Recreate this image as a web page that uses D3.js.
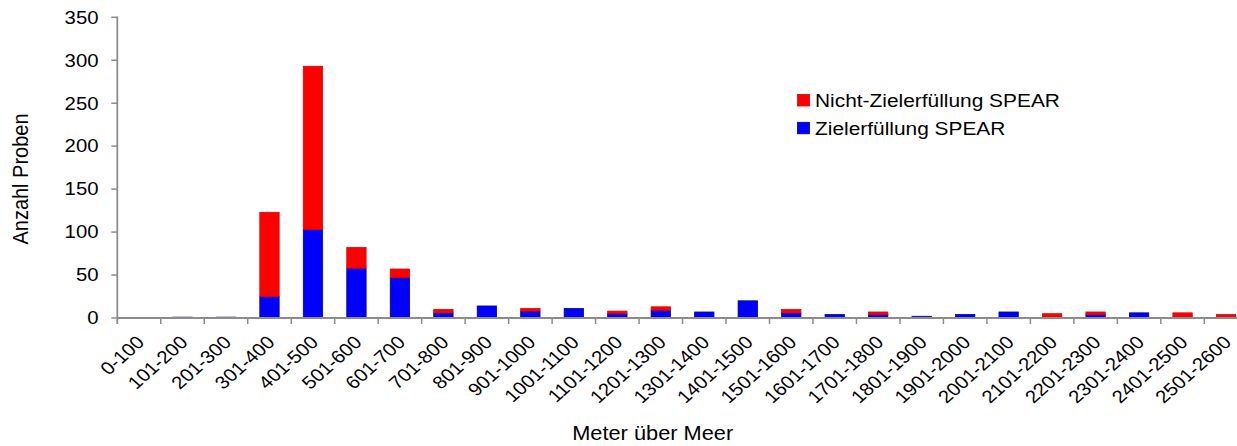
<!DOCTYPE html>
<html><head><meta charset="utf-8">
<script src="https://cdn.jsdelivr.net/npm/d3@7"></script>
<style>body{margin:0;background:#fff}svg{display:block;font-family:"Liberation Sans",Arial,sans-serif}</style>
</head><body><svg id="c" width="1237" height="446"></svg>
<script>
const categories = ["0-100","101-200","201-300","301-400","401-500","501-600","601-700","701-800","801-900","901-1000","1001-1100","1101-1200","1201-1300","1301-1400","1401-1500","1501-1600","1601-1700","1701-1800","1801-1900","1901-2000","2001-2100","2101-2200","2201-2300","2301-2400","2401-2500","2501-2600"];
const zielerfuellung = [0,1,1,25,103,58,47,6,14,8,11,5,9,7,20,6,4,4,2,4,7,1,4,6,1,0];
const nichtZielerfuellung = [0,0,0,98,190,24,10,4,0,3,0,3,4,0,0,4,0,3,0,0,0,4,3,0,5,4];
const yTicks = [0,50,100,150,200,250,300,350];
const seriesNames = ["Zielerfüllung SPEAR","Nicht-Zielerfüllung SPEAR"];

const svg = d3.select("#c");
const sx = 1.13; // horizontal stretch of text seen in the reference
const x0 = 117.3, bandW = 43.48;
const x = d3.scaleBand().domain(categories).range([x0, x0 + bandW*categories.length]).paddingInner(0.555).paddingOuter(0.2775);
const y = d3.scaleLinear().domain([0,350]).range([318, 17.3]);
const axisColor = "#8c8c8c";

// y axis ticks + labels
const gy = svg.append("g");
gy.selectAll("line").data(yTicks).join("line")
  .attr("x1",x0-6).attr("x2",x0).attr("y1",d=>y(d)).attr("y2",d=>y(d))
  .attr("stroke",axisColor).attr("stroke-width",1.5);
gy.selectAll("text").data(yTicks).join("text")
  .attr("transform",d=>`translate(98.5,${y(d)}) scale(${sx},1)`)
  .attr("text-anchor","end").attr("dy","0.35em").attr("font-size",18).attr("fill","#000").text(d=>d);
svg.append("line").attr("x1",x0).attr("x2",x0).attr("y1",y(350)-0.8).attr("y2",324).attr("stroke",axisColor).attr("stroke-width",1.8);

// data
const data = categories.map((c,i)=>({cat:c, Ziel:zielerfuellung[i], Nicht:nichtZielerfuellung[i]}));
const stack = d3.stack().keys(["Ziel","Nicht"])(data);
const colors = {Ziel:"#0000ff", Nicht:"#ff0000"};
const strokes = {Ziel:"#00009a", Nicht:"#e00000"};
svg.append("g").selectAll("g").data(stack).join("g")
  .attr("fill", d=>colors[d.key])
  .selectAll("rect").data(d=>d.map(v=>Object.assign(v,{key:d.key}))).join("rect")
  .attr("x", d=>x(d.data.cat))
  .attr("width", x.bandwidth())
  .attr("y", d=>y(d[1]))
  .attr("height", d=>Math.max(0, y(d[0])-y(d[1])))
  .attr("stroke", d=> (d[1]-d[0])>0 ? strokes[d.key] : "none")
  .attr("stroke-width", 0.8);

// x axis
svg.append("line").attr("x1",x0).attr("x2",1237).attr("y1",318).attr("y2",318).attr("stroke",axisColor).attr("stroke-width",2);
const boundaries = categories.map((c,i)=>x0 + bandW*(i+1));
svg.append("g").selectAll("line").data(boundaries).join("line")
  .attr("x1",d=>d).attr("x2",d=>d).attr("y1",318).attr("y2",324).attr("stroke",axisColor).attr("stroke-width",1.5);
svg.append("g").selectAll("text").data(categories).join("text")
  .attr("transform", d=>`translate(${x(d)+x.bandwidth()/2+6.5},343.5) scale(${sx},1) rotate(-45)`)
  .attr("text-anchor","end").attr("font-size",18).attr("fill","#000").text(d=>d);

// axis titles
svg.append("text").attr("transform",`translate(652.7,440) scale(${sx},1)`).attr("text-anchor","middle").attr("font-size",19.3).text("Meter über Meer");
svg.append("text").attr("transform",`translate(28,179) scale(${sx},1) rotate(-90)`).attr("text-anchor","middle").attr("font-size",20).text("Anzahl Proben");

// legend
const legend = [{name:seriesNames[1], key:"Nicht", y:94.5},{name:seriesNames[0], key:"Ziel", y:122.3}];
const lg = svg.append("g").selectAll("g").data(legend).join("g").attr("transform",d=>`translate(797.5,${d.y})`);
lg.append("rect").attr("width",12).attr("height",11.5).attr("fill",d=>colors[d.key]).attr("stroke",d=>strokes[d.key]).attr("stroke-width",0.8);
lg.append("text").attr("transform",`translate(17.5,12.2) scale(${sx},1)`).attr("font-size",18.5).text(d=>d.name);
</script></body></html>
